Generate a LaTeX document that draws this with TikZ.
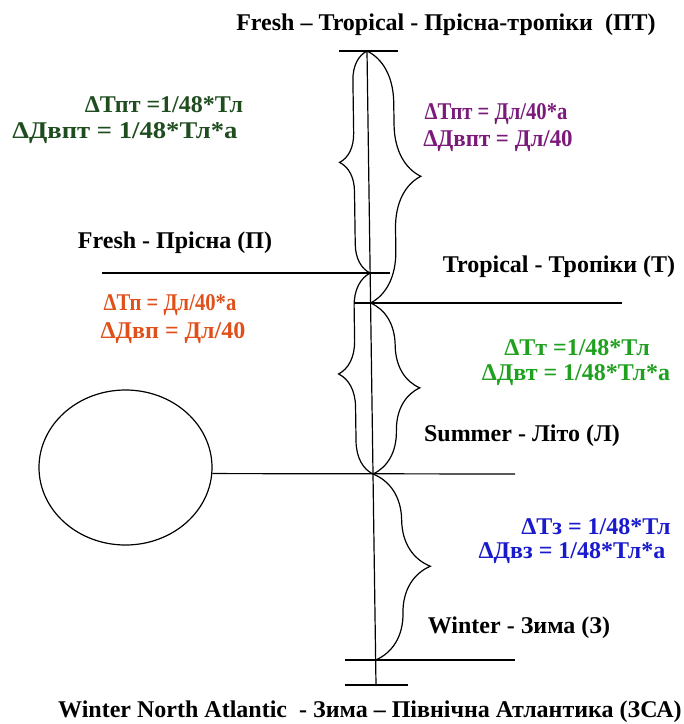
\documentclass[tikz,border=0pt]{standalone}
\usepackage{fontspec}
\setmainfont{Liberation Serif}
\usepackage{xcolor}
\usetikzlibrary{positioning,calc,shapes.geometric,decorations.pathreplacing}
\definecolor{cdarkgreen}{HTML}{1F4D1F}
\definecolor{cpurple}{HTML}{7A1A7A}
\definecolor{corange}{HTML}{E0501A}
\definecolor{cgreen}{HTML}{1FA01F}
\definecolor{cblue}{HTML}{1A1ACD}

\begin{document}
\begin{tikzpicture}[x=0.5pt,y=-0.5pt,
  txt/.style={font=\bfseries\fontsize{12}{14}\selectfont, inner sep=0pt},
  ln/.style={line width=0.6pt},
  curly/.style={ln, decorate, decoration={brace, amplitude=#1}}]
  \useasboundingbox (0,0) rectangle (684,724);
  % axis and levels
  \coordinate (top) at (367,51);
  \coordinate (bot) at (376,685);
  \draw[ln] (top) -- (bot);
  \coordinate (yP) at ($(top)!0.3502!(bot)$);
  \coordinate (yT) at ($(top)!0.3975!(bot)$);
  \coordinate (yL) at ($(top)!0.6672!(bot)$);
  \coordinate (yZ) at ($(top)!0.9606!(bot)$);
  \coordinate (ptA) at (339,51);  \coordinate (ptB) at (398,51);
  \coordinate (pA) at (102,273);  \coordinate (pB) at (390,273);
  \coordinate (tA) at (354,303);  \coordinate (tB) at (622,303);
  \coordinate (lB) at (515,474);
  \coordinate (zA) at (345,660);  \coordinate (zB) at (515,660);
  \coordinate (zsaA) at (345,685); \coordinate (zsaB) at (408,685);
  \node[ellipse, draw, ln, minimum width=86.5pt, minimum height=77.5pt, inner sep=0pt] (sea) at (125.5,467.5) {};
  \draw[ln] (ptA) -- (ptB);
  \draw[ln] (pA) -- (pB);
  \draw[ln] (tA) -- (tB);
  \draw[ln] (sea.-4) -- (lB);
  \draw[ln] (zA) -- (zB);
  \draw[ln] (zsaA) -- (zsaB);
  % braces
  \draw[curly=14.5pt] (yP) -- (top);
  \draw[curly=26pt] (top) -- (yT);
  \draw[curly=16.5pt] (yL) -- (yP);
  \draw[curly=24pt] (yT) -- (yL);
  \draw[curly=28pt] (yL) -- (yZ);
  % labels
  \node[txt] (ttlPT) at (446,25) {Fresh – Tropical - Прісна-тропіки \ (ПТ)};
  \node[txt] (ttlP) at (175,243) {Fresh - Прісна (П)};
  \node[txt] (ttlT) at (559,267) {Tropical - Тропіки (Т)};
  \node[txt] (ttlL) at (522,436) {Summer - Літо (Л)};
  \node[txt] (ttlZ) at (519,628) {Winter - Зима (З)};
  \node[txt] (ttlZSA) at (370,712) {Winter North Atlantic \ - Зима – Північна Атлантика (ЗСА)};
  \node[txt, text=cdarkgreen] (eqPT1) at (164,105) {ΔТпт =1/48*Тл};
  \node[txt, text=cdarkgreen, xscale=1.11] (eqPT2) at (125,133) {ΔДвпт = 1/48*Тл*а};
  \node[txt, text=cpurple, xscale=0.86] (eqPT3) at (496,114) {ΔТпт = Дл/40*а};
  \node[txt, text=cpurple, xscale=0.955] (eqPT4) at (498,141) {ΔДвпт = Дл/40};
  \node[txt, text=corange, xscale=0.86] (eqP1) at (170,305) {ΔТп = Дл/40*а};
  \node[txt, text=corange] (eqP2) at (173,333) {ΔДвп = Дл/40};
  \node[txt, text=cgreen] (eqT1) at (577,348) {ΔТт =1/48*Тл};
  \node[txt, text=cgreen] (eqT2) at (576,375) {ΔДвт = 1/48*Тл*а};
  \node[txt, text=cblue] (eqZ1) at (596,527) {ΔТз = 1/48*Тл};
  \node[txt, text=cblue] (eqZ2) at (572,553) {ΔДвз = 1/48*Тл*а};
\end{tikzpicture}
\end{document}
